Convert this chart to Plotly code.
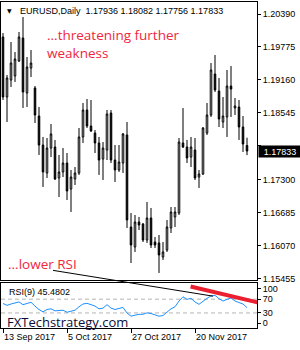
import plotly.graph_objects as go

# ---------------- data ----------------
symbol = "EURUSD,Daily"
opens = [1.19961, 1.18841, 1.19158, 1.19233, 1.19513, 1.19942, 1.18916, 1.19382, 1.19009, 1.18486,
         1.17945, 1.17423, 1.17889, 1.17908, 1.17330, 1.17442, 1.17609, 1.17124, 1.17311, 1.17423,
         1.18095, 1.18598, 1.18300, 1.18169, 1.17983, 1.17684, 1.17852, 1.18542, 1.17665, 1.17479,
         1.17609, 1.18132, 1.16415, 1.16042, 1.16508, 1.16471, 1.16173, 1.16583, 1.16135, 1.16117,
         1.15855, 1.15986, 1.16397, 1.16602, 1.16676, 1.17983, 1.17908, 1.17721, 1.17852, 1.17348,
         1.17404, 1.18169, 1.18505, 1.19270, 1.18953, 1.18375, 1.18468, 1.19046, 1.18636, 1.18654,
         1.18281, 1.17936]
highs = [1.20035, 1.19252, 1.19867, 1.19681, 1.20054, 1.20334, 1.19587, 1.19718, 1.19046, 1.18654,
         1.18095, 1.18076, 1.18337, 1.18039, 1.17759, 1.17889, 1.17796, 1.17479, 1.17535, 1.18262,
         1.18729, 1.18804, 1.18785, 1.18225, 1.18095, 1.18001, 1.18598, 1.18598, 1.17945, 1.17945,
         1.18169, 1.18375, 1.16676, 1.16639, 1.16602, 1.16490, 1.16882, 1.16770, 1.16229, 1.16266,
         1.16135, 1.16546, 1.16788, 1.16788, 1.18076, 1.18636, 1.18039, 1.18095, 1.18076, 1.17479,
         1.18281, 1.18729, 1.19475, 1.19625, 1.19196, 1.18841, 1.19345, 1.19419, 1.18822, 1.18785,
         1.18486, 1.18082]
lows = [1.18785, 1.18375, 1.19028, 1.19121, 1.19494, 1.18636, 1.18654, 1.19214, 1.18356, 1.17759,
        1.17162, 1.17330, 1.17721, 1.17292, 1.16975, 1.17348, 1.16919, 1.16695, 1.17199, 1.17386,
        1.17983, 1.18262, 1.18190, 1.17796, 1.17386, 1.17292, 1.17665, 1.17609, 1.17255, 1.17442,
        1.17423, 1.16397, 1.15743, 1.15949, 1.16359, 1.16135, 1.16117, 1.16023, 1.16023, 1.15557,
        1.15799, 1.15949, 1.16303, 1.16415, 1.16639, 1.17889, 1.17609, 1.17535, 1.17292, 1.17143,
        1.17386, 1.18132, 1.18468, 1.18934, 1.18281, 1.18262, 1.18095, 1.18468, 1.18505, 1.18039,
        1.17815, 1.17756]
closes = [1.18841, 1.19196, 1.19475, 1.19550, 1.19961, 1.18934, 1.19401, 1.19475, 1.18505, 1.17945,
          1.17442, 1.17889, 1.18151, 1.17311, 1.17442, 1.17609, 1.17087, 1.17348, 1.17423, 1.18095,
          1.18598, 1.18300, 1.18207, 1.17983, 1.17665, 1.17889, 1.18524, 1.17665, 1.17479, 1.17628,
          1.18151, 1.16546, 1.16079, 1.16508, 1.16453, 1.16173, 1.16583, 1.16079, 1.16079, 1.15893,
          1.15949, 1.16415, 1.16695, 1.16695, 1.18001, 1.17908, 1.17703, 1.17908, 1.17330, 1.17404,
          1.18262, 1.18505, 1.19345, 1.18972, 1.18430, 1.18486, 1.19046, 1.18990, 1.18673, 1.18281,
          1.17964, 1.17833]
rsi9 = [57.6, 52, 56, 58, 62, 54, 58, 61, 50, 40,
        33, 40, 42, 36, 37, 38, 32, 34, 38, 48,
        56, 58, 55, 50, 42, 44, 54, 44, 40, 42,
        46, 30, 20.5, 23.5, 26, 26, 30.3, 28.3, 23.5, 20.5,
        22.5, 32.3, 42, 48, 64.6, 77, 69.5, 72.5, 62, 55,
        64.6, 72.5, 79.4, 81, 71.5, 64.6, 69.5, 73.5, 64.6, 59.7,
        55.9, 45.4802]

date_tick_idx = [0, 16, 32, 48]
date_tick_text = ["13 Sep 2017", "5 Oct 2017", "27 Oct 2017", "20 Nov 2017"]
price_ticks = [1.15455, 1.16070, 1.16685, 1.17300, 1.17930, 1.18545, 1.19160, 1.19775, 1.20390]
hidden_price_ticks = [1.17930]   # covered by the last-price box in the reference
rsi_ticks = [0, 30, 70, 100]
rsi_levels = [30, 70]

# drawn trend lines (bar index, RSI units)
black_trend_x = [12.5, 52.5]
black_trend_rsi = [153.8, 78.8]
red_trend_x = [46.9, 64.0]
red_trend_rsi = [106.8, 59.6]

# ---------------- layout geometry ----------------
W, H = 300, 350
ML, MT, MR, MB = 1, 2, 43, 22
PW, PH = W - ML - MR, H - MT - MB


def fx(px):
    return (px - ML) / PW


def fy(py):
    return (H - MB - py) / PH


main_dom = [fy(280), 1.0]
rsi_dom = [0.0, fy(282.5)]
x_range = [-0.5, 63.5]
price_range = [1.15426, 1.20614]
rsi_range = [-13.8, 118.5]
span = (rsi_range[1] - rsi_range[0]) / (rsi_dom[1] - rsi_dom[0])
ov_range = [rsi_range[0] - rsi_dom[0] * span, rsi_range[0] + (1 - rsi_dom[0]) * span]

FONT = "Liberation Sans, Arial, sans-serif"
RED = "#f0263c"
idx = list(range(len(opens)))

fig = go.Figure()
fig.add_trace(go.Candlestick(
    x=idx, open=opens, high=highs, low=lows, close=closes,
    increasing=dict(line=dict(color="black", width=1), fillcolor="white"),
    decreasing=dict(line=dict(color="black", width=1), fillcolor="black"),
    whiskerwidth=0, xaxis="x", yaxis="y", hoverinfo="skip", showlegend=False))

fig.add_trace(go.Scatter(x=idx, y=rsi9, mode="lines", xaxis="x2", yaxis="y2",
                         line=dict(color="#1e90ff", width=1), hoverinfo="skip", showlegend=False))
fig.add_trace(go.Scatter(x=red_trend_x, y=red_trend_rsi, mode="lines", xaxis="x2", yaxis="y2",
                         line=dict(color="#ea2030", width=4), hoverinfo="skip", showlegend=False))
fig.add_trace(go.Scatter(x=black_trend_x, y=black_trend_rsi, mode="lines", xaxis="x3", yaxis="y3",
                         line=dict(color="black", width=1), hoverinfo="skip", showlegend=False))

for lv in rsi_levels:
    fig.add_shape(type="line", xref="x2 domain", yref="y2", x0=0, x1=1, y0=lv, y1=lv,
                  line=dict(color="#b4b4b4", width=1, dash="4px,3px"), layer="below")

axis_common = dict(showgrid=False, zeroline=False, linecolor="black", linewidth=1,
                   tickcolor="black", tickfont=dict(family=FONT, size=9, color="black"),
                   fixedrange=True)

price_labels = ["" if v in hidden_price_ticks else f"{v:.5f}" for v in price_ticks]

fig.update_layout(
    width=W, height=H, margin=dict(l=ML, r=MR, t=MT, b=MB, pad=0),
    paper_bgcolor="white", plot_bgcolor="rgba(0,0,0,0)",
    boxgap=0.45,
    xaxis=dict(domain=[0, 1], range=x_range, anchor="y", showline=True, mirror=True,
               ticks="", showticklabels=False, rangeslider=dict(visible=False), **axis_common),
    yaxis=dict(domain=main_dom, range=price_range, anchor="x", side="right", showline=True,
               mirror=True, tickvals=price_ticks, ticktext=price_labels,
               ticks="outside", ticklen=3, **axis_common),
    xaxis2=dict(domain=[0, 1], range=x_range, anchor="y2", showline=True, mirror=True,
                tickvals=date_tick_idx, ticktext=date_tick_text, ticks="outside", ticklen=4,
                ticklabelposition="outside right", **axis_common),
    yaxis2=dict(domain=rsi_dom, range=rsi_range, anchor="x2", side="right", showline=True,
                mirror=True, tickvals=rsi_ticks, ticktext=[str(v) for v in rsi_ticks],
                ticks="outside", ticklen=3, **axis_common),
    xaxis3=dict(domain=[0, 1], range=x_range, anchor="y3", visible=False, fixedrange=True),
    yaxis3=dict(domain=[0, 1], range=ov_range, anchor="x3", visible=False, fixedrange=True),
)

header = f"{symbol}\u00a0\u00a0{opens[-1]:.5f} {highs[-1]:.5f} {lows[-1]:.5f} {closes[-1]:.5f}"
ann = [
    dict(text="▼", x=fx(9.5), y=fy(11), xanchor="center", yanchor="middle",
         font=dict(family="DejaVu Sans", size=6, color="black")),
    dict(text=header, x=fx(18), y=fy(11), xanchor="left", yanchor="middle",
         font=dict(family=FONT, size=9, color="black")),
    dict(text="...threatening further<br>weakness", x=fx(45), y=fy(44), xanchor="left",
         yanchor="middle", align="left", font=dict(family="Open Sans", size=13.5, color=RED)),
    dict(text="...lower RSI", x=fx(6), y=fy(264), xanchor="left", yanchor="middle",
         font=dict(family="Open Sans", size=13.5, color=RED)),
    dict(text=f"RSI(9) {rsi9[-1]:.4f}", x=fx(7), y=fy(291.5), xanchor="left", yanchor="middle",
         font=dict(family=FONT, size=9, color="black")),
    dict(text="FXTechstrategy.com", x=fx(5), y=fy(321.5), xanchor="left", yanchor="middle",
         font=dict(family="Open Sans", size=13, color="#0c0c38")),
]
for a in ann:
    a.update(xref="paper", yref="paper", showarrow=False)
    fig.add_annotation(**a)

fig.add_annotation(text=f"{closes[-1]:.5f}", xref="paper", yref="y", x=1, y=closes[-1],
                   xanchor="left", yanchor="middle", xshift=1, showarrow=False,
                   bgcolor="black", width=40, height=9, borderpad=1, align="center",
                   font=dict(family=FONT, size=9, color="white"))

fig.write_html("out.html")
